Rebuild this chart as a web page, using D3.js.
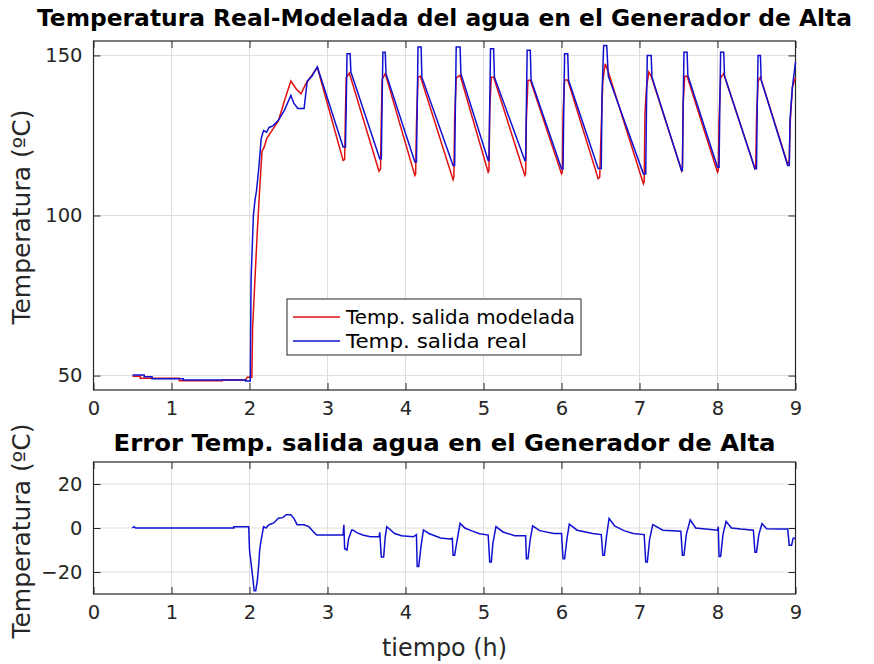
<!DOCTYPE html>
<html>
<head>
<meta charset="utf-8">
<script src="https://d3js.org/d3.v7.min.js"></script>
<style>
  body { margin: 0; background: #fff; }
  text { font-family: "DejaVu Sans", sans-serif; fill: #262626; }
</style>
</head>
<body>
<div id="chart"></div>
<script>
// x ticks (tiempo en horas)
var xTicks = [0, 1, 2, 3, 4, 5, 6, 7, 8, 9];
var yTicksTop = [50, 100, 150];
var yTicksBottom = [-20, 0, 20];
var legendLabels = ["Temp. salida modelada", "Temp. salida real"];

// temperatura modelada [t (h), T (ºC)]
var modelada = [
  [0.50, 49.8], [0.60, 49.8], [0.60, 49.2], [1.10, 49.2], [1.10, 48.4], [1.65, 48.4],
  [1.65, 48.6], [1.95, 48.6], [1.97, 49.5], [2.03, 49.5], [2.04, 65], [2.07, 80],
  [2.10, 95], [2.13, 108], [2.16, 120], [2.19, 121.5], [2.22, 124], [2.30, 127],
  [2.37, 129.5], [2.45, 136], [2.53, 142], [2.60, 139.5], [2.66, 138], [2.72, 141],
  [2.80, 143.8], [2.87, 146.2],
  [3.20, 117.2], [3.22, 117.5], [3.23, 132], [3.24, 143], [3.28, 144.5],
  [3.66, 113.8], [3.68, 114.5], [3.69, 130], [3.70, 142.5], [3.74, 144.3],
  [4.12, 112.5], [4.13, 113], [4.14, 128], [4.16, 143.2], [4.19, 143.5],
  [4.61, 111.2], [4.62, 112], [4.63, 130], [4.65, 143], [4.70, 143.8],
  [5.06, 113.5], [5.07, 114], [5.08, 133], [5.10, 143.2], [5.13, 143.2],
  [5.53, 112.5], [5.54, 113], [5.55, 130], [5.57, 142.2], [5.60, 142.3],
  [6.00, 113], [6.01, 113.5], [6.02, 132], [6.04, 142.3], [6.08, 142.3],
  [6.47, 111.5], [6.49, 112], [6.51, 128], [6.53, 142], [6.56, 147.4], [6.60, 144.8],
  [7.05, 109.9], [7.06, 110.5], [7.07, 132], [7.09, 140], [7.12, 144.8], [7.15, 143.5],
  [7.54, 114], [7.55, 115], [7.56, 135], [7.58, 143.5], [7.61, 143.5],
  [8.00, 113.5], [8.01, 114], [8.02, 130], [8.04, 143], [8.08, 144.3],
  [8.48, 114.6], [8.49, 115], [8.50, 130], [8.52, 142], [8.55, 143.2],
  [8.90, 116], [8.92, 117], [8.93, 128], [8.96, 140.1], [9.00, 143]
];

// temperatura real [t (h), T (ºC)]
var real = [
  [0.50, 50.2], [0.65, 50.2], [0.65, 49.6], [0.75, 49.6], [0.75, 49.0], [1.15, 49.0],
  [1.15, 48.6], [1.95, 48.6], [1.95, 48.3], [2.01, 48.3], [2.02, 80], [2.05, 100],
  [2.07, 104.7], [2.09, 107.8], [2.12, 115], [2.15, 124], [2.18, 126.5], [2.22, 126],
  [2.25, 127.5], [2.30, 128], [2.37, 129.7], [2.45, 133], [2.53, 137.5], [2.57, 135],
  [2.62, 133.4], [2.70, 133.4], [2.74, 142], [2.80, 143.5], [2.87, 146.4],
  [3.20, 121.4], [3.23, 121.4], [3.24, 134], [3.25, 150.5], [3.29, 150.5], [3.30, 144.8],
  [3.67, 117.7], [3.69, 117.7], [3.70, 135], [3.71, 151], [3.74, 151], [3.75, 144.3],
  [4.12, 116.7], [4.14, 116.7], [4.15, 133], [4.16, 152.6], [4.20, 152.6], [4.21, 143.2],
  [4.61, 115.6], [4.63, 115.6], [4.64, 135], [4.65, 152.6], [4.70, 152.6], [4.71, 144.3],
  [5.06, 117.2], [5.07, 117.2], [5.08, 135], [5.09, 152.1], [5.13, 152.1], [5.14, 143.2],
  [5.53, 117.2], [5.54, 117.2], [5.55, 135], [5.56, 151.6], [5.60, 151.6], [5.61, 142.3],
  [6.00, 114.6], [6.02, 114.6], [6.03, 135], [6.04, 150.5], [6.08, 150.5], [6.09, 142.3],
  [6.47, 114.7], [6.51, 114.7], [6.52, 138], [6.54, 153.1], [6.58, 153.1], [6.60, 143.5],
  [7.05, 113], [7.08, 113], [7.09, 135], [7.10, 150], [7.15, 150], [7.16, 143.2],
  [7.54, 114], [7.55, 114], [7.56, 135], [7.57, 151], [7.61, 151], [7.62, 143.7],
  [8.00, 115.1], [8.02, 115.1], [8.03, 135], [8.04, 151], [8.08, 151], [8.09, 143.6],
  [8.48, 114.6], [8.50, 114.6], [8.51, 135], [8.52, 150], [8.55, 150], [8.56, 142.3],
  [8.90, 115.6], [8.92, 115.6], [8.93, 130], [8.96, 140], [9.00, 147.9]
];

// error [t (h), error (ºC)]
var errorTemp = [
  [0.495, 0], [0.52, 0.6], [0.54, 0], [1.80, 0], [1.80, 0.6], [1.99, 0.6],
  [2.00, -10], [2.02, -16], [2.04, -22], [2.06, -28.5], [2.08, -28.5], [2.10, -24],
  [2.12, -16], [2.13, -10], [2.15, -5.4], [2.18, 0.6], [2.21, 0], [2.25, 1.5],
  [2.31, 2.3], [2.37, 4.4], [2.43, 4.7], [2.47, 6], [2.53, 6], [2.57, 4.4],
  [2.61, 1.5], [2.70, 1.5], [2.76, 0.6], [2.82, -1.7], [2.86, -3.2], [3.20, -3.2],
  [3.21, 1.5], [3.22, -9.4], [3.25, -10], [3.27, -5], [3.31, -0.9], [3.33, -1.0],
  [3.37, -2.0], [3.45, -3.2], [3.55, -4], [3.66, -4],
  [3.67, -2], [3.69, -13.2], [3.72, -13.2], [3.74, -4], [3.76, 0.6], [3.78, 0],
  [3.86, -2.5], [3.95, -3.5], [4.10, -4],
  [4.14, -3], [4.15, -17.5], [4.17, -17.5], [4.20, -8], [4.23, -0.9], [4.30, -2.5],
  [4.45, -4.5], [4.57, -5],
  [4.60, -4.7], [4.61, -12.4], [4.63, -12.4], [4.66, -6], [4.70, 2.1], [4.76, 0],
  [4.85, -1.3], [4.95, -2.6], [5.06, -3.2],
  [5.08, -15.5], [5.10, -15.5], [5.12, -7], [5.16, 0.6], [5.25, -1.8], [5.40, -3.5],
  [5.54, -3.5],
  [5.55, -14], [5.57, -14], [5.60, -5], [5.63, 1], [5.72, -1.2], [5.90, -2.5],
  [6.00, -2.5],
  [6.02, -14], [6.04, -14], [6.07, -5], [6.10, 1.8], [6.20, -1.0], [6.40, -2.5],
  [6.51, -3],
  [6.53, -12.4], [6.55, -12.4], [6.58, -3], [6.61, 4.4], [6.68, 1.0], [6.80, -1.2],
  [6.92, -2.5], [7.06, -3],
  [7.08, -15.5], [7.10, -15.5], [7.13, -5], [7.17, 1.5], [7.30, -1.0], [7.53, -1.5],
  [7.55, -12.4], [7.57, -12.4], [7.60, -3], [7.65, 3.7], [7.72, 0], [7.85, -0.5],
  [8.00, -1], [8.01, 0.6],
  [8.02, -13], [8.04, -13], [8.07, -3], [8.11, 3], [8.18, 0], [8.30, -0.5],
  [8.46, -1],
  [8.48, -11], [8.50, -11], [8.53, -3], [8.57, 2], [8.63, -0.3], [8.80, -0.5],
  [8.90, -0.5],
  [8.92, -7.8], [8.95, -7.8], [8.97, -4.7], [9.00, -4.7]
];

var colorModel = "#e01010";
var colorReal = "#1010d0";

var svg = d3.select("#chart").append("svg")
  .attr("width", 874)
  .attr("height", 664);

var xScale = d3.scaleLinear().domain([0, 9]).range([93.5, 795.5]);
var yTop = d3.scaleLinear().domain([45.5, 154.5]).range([390, 41]);
var yBottom = d3.scaleLinear().domain([-30, 30]).range([594, 462]);

function drawPanel(yScale, yTicks, top, bottom) {
  var g = svg.append("g");

  // grid
  g.selectAll("line.gx").data(xTicks).enter().append("line")
    .attr("x1", function(d) { return xScale(d); })
    .attr("x2", function(d) { return xScale(d); })
    .attr("y1", top).attr("y2", bottom)
    .style("stroke", "#dedede").style("stroke-width", 1);
  g.selectAll("line.gy").data(yTicks).enter().append("line")
    .attr("x1", xScale(0)).attr("x2", xScale(9))
    .attr("y1", function(d) { return yScale(d); })
    .attr("y2", function(d) { return yScale(d); })
    .style("stroke", "#dedede").style("stroke-width", 1);

  // axes (ticks pointing inwards, on all sides)
  var xb = g.append("g").attr("transform", "translate(0," + bottom + ")")
    .call(d3.axisBottom(xScale).tickValues(xTicks).tickSize(-7).tickPadding(11));
  var xt = g.append("g").attr("transform", "translate(0," + top + ")")
    .call(d3.axisTop(xScale).tickValues(xTicks).tickSize(-7).tickFormat(""));
  var yl = g.append("g").attr("transform", "translate(" + xScale(0) + ",0)")
    .call(d3.axisLeft(yScale).tickValues(yTicks).tickSize(-7).tickPadding(11));
  var yr = g.append("g").attr("transform", "translate(" + xScale(9) + ",0)")
    .call(d3.axisRight(yScale).tickValues(yTicks).tickSize(-7).tickFormat(""));

  [xb, xt, yl, yr].forEach(function(a) {
    a.selectAll("path.domain").remove();
    a.selectAll("line").style("stroke", "#262626");
    a.selectAll("text").style("font-size", "19.5px").style("fill", "#262626")
      .style("font-family", "DejaVu Sans, sans-serif");
  });

  g.append("rect")
    .attr("x", xScale(0)).attr("y", top)
    .attr("width", xScale(9) - xScale(0)).attr("height", bottom - top)
    .style("fill", "none").style("stroke", "#262626").style("stroke-width", 1.2);

  return g;
}

// panel superior
drawPanel(yTop, yTicksTop, 41, 390);

var lineTop = d3.line()
  .x(function(d) { return xScale(d[0]); })
  .y(function(d) { return yTop(d[1]); });

svg.append("path")
  .attr("d", lineTop(modelada))
  .style("fill", "none").style("stroke", colorModel).style("stroke-width", 1.5);

svg.append("path")
  .attr("d", lineTop(real))
  .style("fill", "none").style("stroke", colorReal).style("stroke-width", 1.5);

svg.append("text")
  .text("Temperatura Real-Modelada del agua en el Generador de Alta")
  .attr("x", 444.5).attr("y", 26)
  .attr("text-anchor", "middle")
  .attr("textLength", 815).attr("lengthAdjust", "spacingAndGlyphs")
  .style("font-size", "23.5px").style("font-weight", "bold").style("fill", "#000");

svg.append("text")
  .text("Temperatura (ºC)")
  .attr("transform", "translate(30," + 217 + ") rotate(-90)")
  .attr("text-anchor", "middle")
  .attr("textLength", 215).attr("lengthAdjust", "spacingAndGlyphs")
  .style("font-size", "24px");

// leyenda
var legend = svg.append("g").attr("transform", "translate(287,299)");
legend.append("rect")
  .attr("width", 294).attr("height", 56)
  .style("fill", "#fff").style("stroke", "#262626").style("stroke-width", 1);
[colorModel, colorReal].forEach(function(c, i) {
  legend.append("line")
    .attr("x1", 6).attr("x2", 53)
    .attr("y1", 18 + i * 24).attr("y2", 18 + i * 24)
    .style("stroke", c).style("stroke-width", 1.5);
  legend.append("text")
    .text(legendLabels[i])
    .attr("x", 59).attr("y", 18 + i * 24)
    .attr("dy", "0.35em")
    .attr("textLength", i == 0 ? 229 : 181).attr("lengthAdjust", "spacingAndGlyphs")
    .style("font-size", "19.5px").style("fill", "#000");
});

// panel inferior
drawPanel(yBottom, yTicksBottom, 462, 594);

var lineBottom = d3.line()
  .x(function(d) { return xScale(d[0]); })
  .y(function(d) { return yBottom(d[1]); });

svg.append("path")
  .attr("d", lineBottom(errorTemp))
  .style("fill", "none").style("stroke", colorReal).style("stroke-width", 1.5);

svg.append("text")
  .text("Error Temp. salida agua en el Generador de Alta")
  .attr("x", 444.5).attr("y", 451)
  .attr("text-anchor", "middle")
  .attr("textLength", 662).attr("lengthAdjust", "spacingAndGlyphs")
  .style("font-size", "23.5px").style("font-weight", "bold").style("fill", "#000");

svg.append("text")
  .text("Temperatura (ºC)")
  .attr("transform", "translate(30," + 531 + ") rotate(-90)")
  .attr("text-anchor", "middle")
  .attr("textLength", 215).attr("lengthAdjust", "spacingAndGlyphs")
  .style("font-size", "24px");

svg.append("text")
  .text("tiempo (h)")
  .attr("x", 444.5).attr("y", 656)
  .attr("text-anchor", "middle")
  .attr("textLength", 125).attr("lengthAdjust", "spacingAndGlyphs")
  .style("font-size", "24px");
</script>
</body>
</html>
